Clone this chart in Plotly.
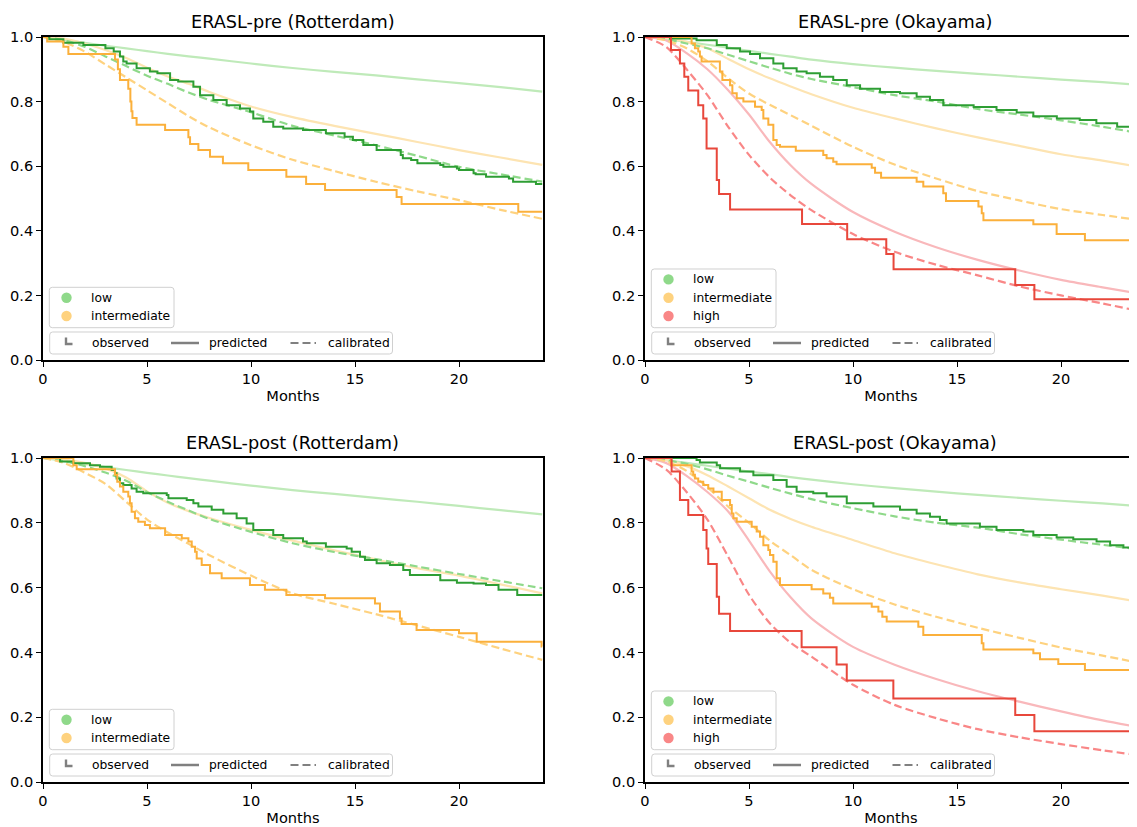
import plotly.graph_objects as go

W, H = 1137, 827          # browser window
OFF = 8                   # default page margin around the plot div
FW, FH = W - OFF, H - OFF # figure size so that it ends exactly at the window edge
FONT = "DejaVu Sans"

# ---------------- data ----------------
# common time grid (months) for the smooth model curves
T = [0, 1, 2, 3, 4, 5, 6, 7, 8, 10, 12, 14, 16, 18, 20, 22, 24]

# ERASL-pre (Rotterdam)
pre_rot_low_pred = [1.0, 0.991, 0.982, 0.973, 0.965, 0.956, 0.948, 0.940, 0.933, 0.918, 0.904, 0.892, 0.881, 0.869, 0.857, 0.845, 0.831]
pre_rot_low_cal = [1.0, 0.990, 0.970, 0.940, 0.910, 0.880, 0.855, 0.828, 0.805, 0.767, 0.725, 0.695, 0.665, 0.632, 0.598, 0.575, 0.552]
pre_rot_int_pred = [1.0, 0.995, 0.980, 0.960, 0.935, 0.905, 0.878, 0.855, 0.830, 0.785, 0.752, 0.725, 0.700, 0.675, 0.650, 0.627, 0.604]
pre_rot_int_cal = [1.0, 0.985, 0.955, 0.915, 0.875, 0.835, 0.795, 0.755, 0.720, 0.665, 0.620, 0.585, 0.552, 0.522, 0.495, 0.465, 0.437]
pre_rot_low_obs_t = [0, 0.3, 0.98, 1.94, 3.0, 3.4, 3.7, 3.86, 4.02, 4.5, 5.14, 5.5, 6.11, 6.5, 7.23, 7.55, 8.19, 8.83, 9.47, 9.95,
                     10.11, 10.59, 11.07, 11.55, 12.5, 13.6, 14.5, 14.9, 15.4, 16.04, 17.2, 17.3, 17.7, 18.0, 19.1, 19.25, 19.9, 20.0, 20.7, 20.8,
                     21.3, 22.4, 22.6, 23.7, 24.0]
pre_rot_low_obs_s = [1.0, 0.993, 0.982, 0.975, 0.965, 0.955, 0.94, 0.924, 0.918, 0.903, 0.893, 0.888, 0.867, 0.862, 0.846, 0.82, 0.805, 0.789, 0.779, 0.769,
                     0.748, 0.738, 0.722, 0.717, 0.712, 0.702, 0.691, 0.681, 0.666, 0.65, 0.635, 0.625, 0.619, 0.609, 0.604, 0.598, 0.593, 0.588, 0.578, 0.575,
                     0.567, 0.562, 0.552, 0.545, 0.545]
pre_rot_int_obs_t = [0, 0.2, 0.98, 1.22, 3.46, 3.6, 3.7, 4.1, 4.2, 4.25, 4.3, 4.5, 5.87, 6.99, 7.07, 7.47, 8.03, 8.65, 9.87, 11.7,
                     12.65, 13.56, 17.0, 17.24, 22.85, 24.0]
pre_rot_int_obs_s = [1.0, 0.986, 0.97, 0.947, 0.93, 0.9, 0.867, 0.84, 0.8, 0.77, 0.749, 0.728, 0.712, 0.69, 0.669, 0.65, 0.629, 0.609, 0.588, 0.567,
                     0.545, 0.526, 0.505, 0.483, 0.459, 0.459]

# ERASL-pre (Okayama)
pre_oka_low_pred = [1.0, 0.993, 0.985, 0.976, 0.967, 0.957, 0.948, 0.939, 0.930, 0.916, 0.905, 0.895, 0.886, 0.877, 0.868, 0.860, 0.851]
pre_oka_low_cal = [1.0, 0.993, 0.980, 0.965, 0.945, 0.925, 0.905, 0.886, 0.870, 0.845, 0.820, 0.800, 0.777, 0.760, 0.742, 0.722, 0.700]
pre_oka_int_pred = [1.0, 0.997, 0.985, 0.965, 0.932, 0.900, 0.872, 0.847, 0.823, 0.781, 0.748, 0.717, 0.689, 0.663, 0.637, 0.617, 0.595]
pre_oka_int_cal = [1.0, 0.990, 0.965, 0.925, 0.872, 0.825, 0.790, 0.758, 0.725, 0.660, 0.605, 0.562, 0.523, 0.494, 0.467, 0.449, 0.431]
pre_oka_high_pred = [1.0, 0.990, 0.950, 0.900, 0.835, 0.760, 0.675, 0.603, 0.545, 0.458, 0.397, 0.349, 0.310, 0.277, 0.248, 0.225, 0.203]
pre_oka_high_cal = [1.0, 0.970, 0.900, 0.820, 0.722, 0.635, 0.565, 0.510, 0.464, 0.390, 0.335, 0.295, 0.262, 0.228, 0.200, 0.175, 0.148]
pre_oka_low_obs_t = [0, 1.2, 2.48, 3.45, 3.93, 4.57, 5.05, 5.53, 6.17, 6.65, 7.29, 7.77, 8.41, 9.05, 9.7, 10.34, 11.3, 12.26, 13.06, 13.7,
                     14.34, 15.8, 16.9, 17.87, 18.67, 19.8, 20.9, 21.7, 22.7, 24.0]
pre_oka_low_obs_s = [1.0, 0.995, 0.99, 0.975, 0.965, 0.955, 0.947, 0.934, 0.918, 0.903, 0.893, 0.888, 0.877, 0.867, 0.851, 0.84, 0.83, 0.826, 0.815, 0.805,
                     0.789, 0.783, 0.774, 0.766, 0.755, 0.748, 0.743, 0.733, 0.722, 0.722]
pre_oka_int_obs_t = [0, 2.24, 2.4, 2.56, 2.64, 2.72, 3.6, 3.72, 4.09, 4.2, 4.41, 4.73, 5.29, 5.61, 5.69, 5.93, 6.17, 6.33, 6.49, 7.25,
                     8.57, 8.73, 9.05, 9.21, 10.9, 11.06, 11.35, 13.06, 13.38, 14.34, 14.47, 16.03, 16.19, 16.27, 18.67, 19.79, 21.15, 24.0]
pre_oka_int_obs_s = [1.0, 0.98, 0.965, 0.955, 0.94, 0.924, 0.893, 0.867, 0.851, 0.826, 0.81, 0.8, 0.784, 0.774, 0.748, 0.728, 0.681, 0.666, 0.66, 0.648,
                     0.635, 0.625, 0.614, 0.606, 0.595, 0.58, 0.564, 0.552, 0.537, 0.516, 0.492, 0.475, 0.454, 0.433, 0.42, 0.39, 0.371, 0.371]
pre_oka_high_obs_t = [0, 1.25, 1.68, 1.89, 2.08, 2.56, 2.8, 2.96, 3.45, 3.56, 4.09, 7.55, 9.72, 11.6, 11.95, 17.8, 18.72, 24.0]
pre_oka_high_obs_s = [1.0, 0.96, 0.918, 0.877, 0.834, 0.789, 0.748, 0.655, 0.557, 0.514, 0.466, 0.421, 0.374, 0.328, 0.281, 0.232, 0.188, 0.188]

# ERASL-post (Rotterdam)
post_rot_low_pred = [1.0, 0.991, 0.982, 0.972, 0.963, 0.954, 0.946, 0.938, 0.930, 0.915, 0.901, 0.889, 0.877, 0.865, 0.852, 0.839, 0.826]
post_rot_low_cal = [1.0, 0.990, 0.975, 0.955, 0.930, 0.895, 0.865, 0.838, 0.812, 0.772, 0.737, 0.710, 0.688, 0.665, 0.642, 0.620, 0.598]
post_rot_int_pred = [1.0, 0.995, 0.985, 0.968, 0.940, 0.897, 0.862, 0.836, 0.815, 0.778, 0.745, 0.715, 0.687, 0.660, 0.637, 0.610, 0.582]
post_rot_int_cal = [1.0, 0.985, 0.955, 0.920, 0.865, 0.810, 0.770, 0.735, 0.700, 0.637, 0.582, 0.550, 0.518, 0.483, 0.448, 0.412, 0.377]
post_rot_low_obs_t = [0, 0.82, 1.46, 2.26, 2.74, 3.3, 3.46, 3.54, 3.7, 3.86, 4.26, 4.5, 4.82, 5.95, 6.03, 6.91, 7.23, 7.47, 8.11, 8.67,
                      9.31, 9.79, 10.11, 11.07, 11.55, 12.5, 12.68, 13.6, 14.6, 14.84, 15.24, 15.48, 16.04, 16.68, 17.32, 17.64, 19.1, 19.9, 20.7, 21.3,
                      21.9, 22.8, 24.0]
post_rot_low_obs_s = [1.0, 0.989, 0.984, 0.978, 0.973, 0.963, 0.953, 0.937, 0.922, 0.917, 0.906, 0.896, 0.891, 0.886, 0.876, 0.87, 0.86, 0.85, 0.84, 0.829,
                      0.814, 0.798, 0.778, 0.762, 0.752, 0.742, 0.737, 0.726, 0.721, 0.711, 0.695, 0.685, 0.675, 0.67, 0.654, 0.639, 0.623, 0.615, 0.613, 0.608,
                      0.593, 0.577, 0.577]
post_rot_int_obs_t = [0, 1.46, 1.62, 3.46, 3.57, 3.7, 3.86, 4.1, 4.18, 4.26, 4.42, 4.58, 4.9, 5.14, 5.87, 6.67, 6.99, 7.15, 7.31, 7.39,
                      7.63, 8.03, 8.59, 9.95, 10.67, 11.7, 13.56, 15.96, 16.2, 17.16, 17.24, 17.96, 20.0, 20.85, 23.97, 24.0]
post_rot_int_obs_s = [1.0, 0.978, 0.965, 0.948, 0.927, 0.912, 0.896, 0.881, 0.86, 0.834, 0.814, 0.803, 0.793, 0.783, 0.762, 0.752, 0.742, 0.726, 0.711, 0.69,
                      0.67, 0.644, 0.629, 0.608, 0.593, 0.577, 0.567, 0.551, 0.526, 0.505, 0.488, 0.469, 0.459, 0.433, 0.418, 0.418]

# ERASL-post (Okayama)
post_oka_low_pred = [1.0, 0.993, 0.985, 0.976, 0.967, 0.958, 0.950, 0.941, 0.933, 0.919, 0.907, 0.896, 0.886, 0.877, 0.868, 0.860, 0.850]
post_oka_low_cal = [1.0, 0.993, 0.982, 0.965, 0.945, 0.927, 0.908, 0.890, 0.873, 0.845, 0.820, 0.800, 0.785, 0.765, 0.748, 0.732, 0.716]
post_oka_int_pred = [1.0, 0.994, 0.975, 0.947, 0.912, 0.876, 0.840, 0.812, 0.788, 0.747, 0.706, 0.672, 0.641, 0.616, 0.595, 0.575, 0.554]
post_oka_int_cal = [1.0, 0.990, 0.960, 0.910, 0.850, 0.800, 0.745, 0.700, 0.655, 0.595, 0.548, 0.510, 0.476, 0.445, 0.415, 0.390, 0.365]
post_oka_high_pred = [1.0, 0.985, 0.945, 0.895, 0.835, 0.745, 0.650, 0.570, 0.505, 0.417, 0.362, 0.318, 0.280, 0.248, 0.218, 0.190, 0.166]
post_oka_high_cal = [1.0, 0.965, 0.895, 0.810, 0.695, 0.578, 0.490, 0.430, 0.387, 0.300, 0.238, 0.197, 0.163, 0.138, 0.117, 0.098, 0.080]
post_oka_low_obs_t = [0, 2.48, 2.64, 3.45, 3.61, 4.57, 5.21, 6.17, 6.81, 7.29, 8.09, 8.73, 9.7, 10.98, 12.26, 13.06, 13.7, 14.18, 14.5, 16.1,
                      16.9, 18.19, 18.67, 19.79, 20.59, 21.71, 22.36, 23.0, 24.0]
post_oka_low_obs_s = [1.0, 0.994, 0.986, 0.978, 0.968, 0.958, 0.947, 0.932, 0.911, 0.896, 0.891, 0.881, 0.86, 0.85, 0.84, 0.829, 0.819, 0.809, 0.798, 0.788,
                      0.778, 0.773, 0.762, 0.755, 0.749, 0.742, 0.731, 0.724, 0.724]
post_oka_int_obs_t = [0, 1.25, 2.24, 2.32, 2.4, 2.56, 2.8, 3.04, 3.29, 3.69, 4.09, 4.17, 4.25, 4.41, 5.13, 5.37, 5.53, 5.69, 5.93, 6.01,
                      6.17, 6.33, 6.49, 8.01, 8.57, 8.89, 9.05, 10.9, 11.22, 11.41, 11.62, 13.14, 13.38, 16.19, 16.27, 18.67, 18.99, 19.87, 21.15, 24.0]
post_oka_int_obs_s = [1.0, 0.978, 0.958, 0.948, 0.937, 0.927, 0.917, 0.906, 0.896, 0.87, 0.855, 0.829, 0.814, 0.803, 0.788, 0.773, 0.757, 0.731, 0.716, 0.701,
                      0.68, 0.629, 0.608, 0.595, 0.582, 0.569, 0.551, 0.541, 0.526, 0.51, 0.495, 0.479, 0.454, 0.428, 0.409, 0.397, 0.379, 0.364, 0.346, 0.346]
post_oka_high_obs_t = [0, 1.28, 1.68, 2.08, 2.8, 2.96, 3.04, 3.45, 3.56, 4.09, 7.53, 9.21, 9.7, 11.94, 17.8, 18.72, 24.0]
post_oka_high_obs_s = [1.0, 0.958, 0.87, 0.824, 0.778, 0.721, 0.673, 0.572, 0.519, 0.466, 0.416, 0.363, 0.313, 0.258, 0.207, 0.157, 0.157]

x_ticks = [0, 5, 10, 15, 20]
y_ticks = [0.0, 0.2, 0.4, 0.6, 0.8, 1.0]
titles = ["ERASL-pre (Rotterdam)", "ERASL-pre (Okayama)", "ERASL-post (Rotterdam)", "ERASL-post (Okayama)"]
style_names = ["observed", "predicted", "calibrated"]

# ---------------- styles ----------------
COL = {
    "low": dict(obs="#2e9e34", cal="#8fd98a", pred="#bfeab9", key="#8fd98a"),
    "intermediate": dict(obs="#fbb03b", cal="#fed27f", pred="#fde4b2", key="#fed27f"),
    "high": dict(obs="#e8473b", cal="#f98787", pred="#f9b8bb", key="#f98787"),
}
GRAY = "#808080"
DASH = "8px,4px"
PX_PER_MONTH = 20.8

# panel geometry in window pixels
panels = [
    dict(left=43, right=543, top=37, bottom=360, mirror_y=True,
         groups=[("low", pre_rot_low_pred, pre_rot_low_cal, pre_rot_low_obs_t, pre_rot_low_obs_s),
                 ("intermediate", pre_rot_int_pred, pre_rot_int_cal, pre_rot_int_obs_t, pre_rot_int_obs_s)]),
    dict(left=645, right=W, top=37, bottom=360, mirror_y=False,
         groups=[("low", pre_oka_low_pred, pre_oka_low_cal, pre_oka_low_obs_t, pre_oka_low_obs_s),
                 ("intermediate", pre_oka_int_pred, pre_oka_int_cal, pre_oka_int_obs_t, pre_oka_int_obs_s),
                 ("high", pre_oka_high_pred, pre_oka_high_cal, pre_oka_high_obs_t, pre_oka_high_obs_s)]),
    dict(left=43, right=543, top=458, bottom=782, mirror_y=True,
         groups=[("low", post_rot_low_pred, post_rot_low_cal, post_rot_low_obs_t, post_rot_low_obs_s),
                 ("intermediate", post_rot_int_pred, post_rot_int_cal, post_rot_int_obs_t, post_rot_int_obs_s)]),
    dict(left=645, right=W, top=458, bottom=782, mirror_y=False,
         groups=[("low", post_oka_low_pred, post_oka_low_cal, post_oka_low_obs_t, post_oka_low_obs_s),
                 ("intermediate", post_oka_int_pred, post_oka_int_cal, post_oka_int_obs_t, post_oka_int_obs_s),
                 ("high", post_oka_high_pred, post_oka_high_cal, post_oka_high_obs_t, post_oka_high_obs_s)]),
]


def PX(px):
    return min(1.0, max(0.0, (px - OFF) / FW))


def PY(py):
    return 1 - (py - OFF) / FH


def rounded_path(x0, y0, x1, y1, r=3):
    def p(x, y):
        return f"{PX(x):.6f},{PY(y):.6f}"
    return (f"M {p(x0 + r, y0)} L {p(x1 - r, y0)} Q {p(x1, y0)} {p(x1, y0 + r)} "
            f"L {p(x1, y1 - r)} Q {p(x1, y1)} {p(x1 - r, y1)} L {p(x0 + r, y1)} "
            f"Q {p(x0, y1)} {p(x0, y1 - r)} L {p(x0, y0 + r)} Q {p(x0, y0)} {p(x0 + r, y0)} Z")


fig = go.Figure()
shapes = []
annotations = []
layout_axes = {}

for i, pn in enumerate(panels):
    n = i + 1
    xa = "x" if n == 1 else f"x{n}"
    ya = "y" if n == 1 else f"y{n}"
    for (name, pred, cal, ot, os_) in pn["groups"]:
        c = COL[name]
        fig.add_trace(go.Scatter(x=T, y=pred, mode="lines", xaxis=xa, yaxis=ya,
                                 line=dict(color=c["pred"], width=2.2, shape="spline", smoothing=0.8),
                                 showlegend=False, name=f"{name} predicted"))
    for (name, pred, cal, ot, os_) in pn["groups"]:
        c = COL[name]
        fig.add_trace(go.Scatter(x=T, y=cal, mode="lines", xaxis=xa, yaxis=ya,
                                 line=dict(color=c["cal"], width=2.2, dash=DASH, shape="spline", smoothing=0.8),
                                 showlegend=False, name=f"{name} calibrated"))
    for (name, pred, cal, ot, os_) in pn["groups"]:
        c = COL[name]
        fig.add_trace(go.Scatter(x=ot, y=os_, mode="lines", xaxis=xa, yaxis=ya,
                                 line=dict(color=c["obs"], width=2, shape="hv"),
                                 showlegend=False, name=f"{name} observed"))

    xk = "xaxis" if n == 1 else f"xaxis{n}"
    yk = "yaxis" if n == 1 else f"yaxis{n}"
    xmax = (pn["right"] - pn["left"]) / PX_PER_MONTH
    layout_axes[xk] = dict(
        domain=[PX(pn["left"]), PX(pn["right"])], anchor=ya, automargin=False,
        range=[0, xmax], tickvals=x_ticks, ticks="outside", ticklen=5, tickwidth=1.2,
        tickcolor="black", showline=True, linecolor="black", linewidth=1.6, mirror=True,
        showgrid=False, zeroline=False, tickfont=dict(family=FONT, size=14.6, color="black"),
        title=dict(text="Months", font=dict(family=FONT, size=14.6, color="black"), standoff=4),
    )
    layout_axes[yk] = dict(
        domain=[PY(pn["bottom"]), PY(pn["top"])], anchor=xa, automargin=False,
        range=[0, 1], tickvals=y_ticks, tickformat=".1f", ticks="outside", ticklen=5, tickwidth=1.2,
        tickcolor="black", showline=True, linecolor="black", linewidth=1.6, mirror=pn["mirror_y"],
        showgrid=False, zeroline=False, tickfont=dict(family=FONT, size=14.6, color="black"),
    )

    # title
    cx = pn["left"] + 12.0 * PX_PER_MONTH
    annotations.append(dict(text=titles[i], x=PX(cx), y=PY(pn["top"] - 15), xref="paper", yref="paper",
                            xanchor="center", yanchor="middle", showarrow=False,
                            font=dict(family=FONT, size=17.7, color="black")))

    L, B = pn["left"], pn["bottom"]
    ng = len(pn["groups"])
    # risk group legend box
    box_top = B - 32.3 - (3.8 + 18.3 * ng)
    shapes.append(dict(type="path", xref="paper", yref="paper", path=rounded_path(L + 6.3, box_top, L + 131, B - 32.3),
                       fillcolor="rgba(255,255,255,0.8)", line=dict(color="#d0d0d0", width=1), layer="above"))
    for k, (name, *_rest) in enumerate(pn["groups"]):
        cy = B - 44 - 18.3 * (ng - 1 - k)
        cxk = L + 23.5
        r = 5.2
        shapes.append(dict(type="circle", xref="paper", yref="paper",
                           x0=PX(cxk - r), x1=PX(cxk + r), y0=PY(cy + r), y1=PY(cy - r),
                           fillcolor=COL[name]["key"], line=dict(width=0), layer="above"))
        annotations.append(dict(text=name, x=PX(L + 46.3), y=PY(cy), xref="paper", yref="paper",
                                xanchor="left", yanchor="middle", showarrow=False,
                                font=dict(family=FONT, size=12.3, color="black")))
    # line style legend box
    shapes.append(dict(type="path", xref="paper", yref="paper", path=rounded_path(L + 6.7, B - 28, L + 349.5, B - 6),
                       fillcolor="rgba(255,255,255,0.8)", line=dict(color="#d0d0d0", width=1), layer="above"))
    iy = B - 17
    shapes.append(dict(type="path", xref="paper", yref="paper",
                       path=f"M {PX(L + 23):.6f},{PY(iy - 5.5):.6f} L {PX(L + 23):.6f},{PY(iy + 1):.6f} L {PX(L + 29.5):.6f},{PY(iy + 1):.6f}",
                       line=dict(color=GRAY, width=2.4), layer="above"))
    shapes.append(dict(type="line", xref="paper", yref="paper", x0=PX(L + 128), x1=PX(L + 156), y0=PY(iy), y1=PY(iy),
                       line=dict(color=GRAY, width=2.5), layer="above"))
    shapes.append(dict(type="line", xref="paper", yref="paper", x0=PX(L + 247.5), x1=PX(L + 273), y0=PY(iy), y1=PY(iy),
                       line=dict(color=GRAY, width=2.2, dash=DASH), layer="above"))
    for sx, txt in zip([47, 164.3, 282.7], style_names):
        annotations.append(dict(text=txt, x=PX(L + sx), y=PY(iy), xref="paper", yref="paper",
                                xanchor="left", yanchor="middle", showarrow=False,
                                font=dict(family=FONT, size=12.3, color="black")))

fig.update_layout(
    width=FW, height=FH, margin=dict(l=0, r=0, t=0, b=0, autoexpand=False),
    paper_bgcolor="white", plot_bgcolor="white", showlegend=False,
    font=dict(family=FONT, color="black"),
    shapes=shapes, annotations=annotations,
    **layout_axes,
)

fig.write_html("out.html")
